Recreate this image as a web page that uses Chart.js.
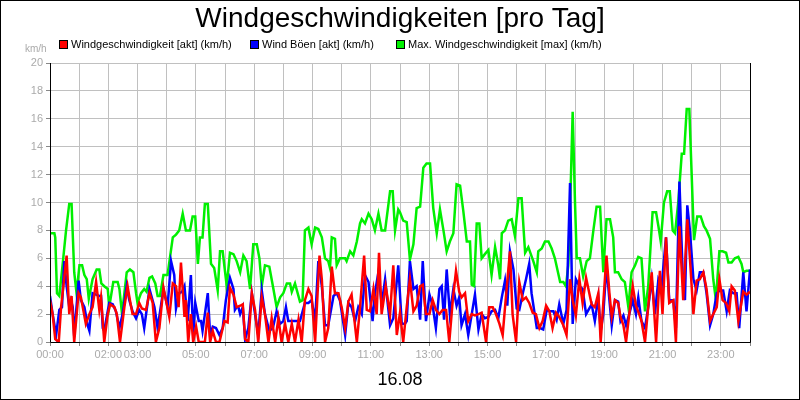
<!DOCTYPE html>
<html><head><meta charset="utf-8">
<script src="https://cdn.jsdelivr.net/npm/chart.js@4/dist/chart.umd.min.js"></script>
<style>html,body{margin:0;padding:0;background:#fff}#w{width:800px;height:400px;position:relative}canvas{display:block}</style>
</head><body><div id="w"><canvas id="c" width="800" height="400"></canvas></div>
<script>
const titleText = "Windgeschwindigkeiten [pro Tag]";
const dateLabel = "16.08";
const unitLabel = "km/h";
const seriesNames = ["Windgeschwindigkeit [akt] (km/h)", "Wind Böen [akt] (km/h)", "Max. Windgeschwindigkeit [max] (km/h)"];
const tickHours = [0,2,3,5,7,9,11,13,15,17,19,21,23];

const maxT = [0,.15,.18,.24,.32,.43,.55,.66,.74,.83,.91,1.01,1.10,1.18,1.26,1.33,1.46,1.6,1.69,1.76,1.86,1.98,2.03,2.17,2.32,2.38,2.47,2.63,2.74,2.86,2.95,3.0,3.12,3.23,3.31,3.41,3.5,3.61,3.69,3.77,3.89,4.03,4.21,4.32,4.43,4.55,4.66,4.8,4.89,4.98,5.07,5.14,5.23,5.31,5.41,5.52,5.63,5.75,5.83,5.92,6.06,6.17,6.29,6.4,6.52,6.63,6.74,6.86,6.97,7.09,7.18,7.26,7.37,7.52,7.66,7.77,7.89,8.0,8.12,8.23,8.29,8.4,8.57,8.66,8.74,8.86,8.97,9.09,9.2,9.32,9.43,9.54,9.6,9.66,9.77,9.83,9.94,10.12,10.17,10.29,10.4,10.52,10.63,10.69,10.8,10.92,11.03,11.14,11.26,11.37,11.49,11.66,11.75,11.83,11.94,12.0,12.11,12.23,12.34,12.46,12.57,12.69,12.8,12.91,13.03,13.14,13.26,13.37,13.49,13.6,13.71,13.83,13.94,14.06,14.17,14.29,14.4,14.46,14.54,14.63,14.72,14.8,14.91,15.03,15.14,15.26,15.37,15.43,15.49,15.6,15.71,15.83,15.94,16.06,16.17,16.29,16.4,16.57,16.69,16.74,16.86,16.97,17.09,17.2,17.31,17.49,17.6,17.69,17.77,17.85,17.92,18.0,18.06,18.17,18.28,18.4,18.51,18.63,18.74,18.86,18.97,19.08,19.2,19.31,19.37,19.48,19.6,19.71,19.83,19.94,20.06,20.17,20.28,20.4,20.51,20.66,20.78,20.86,20.94,21.05,21.16,21.25,21.35,21.43,21.54,21.66,21.74,21.83,21.92,22.0,22.08,22.19,22.31,22.42,22.51,22.63,22.74,22.83,22.95,23.06,23.18,23.26,23.37,23.48,23.6,23.71,23.77,23.88,24.0];
const maxV = [7.8,7.8,7.5,3.5,3.3,5.5,8,9.9,9.9,5,3.5,5.5,5.5,4.8,4.5,3.1,4.5,5.2,5.2,4.2,4,3.8,2.5,4.3,4.3,3.8,2,5,5.2,5,3.5,2.8,3.5,3.8,3.6,4.6,4.7,4.2,3.3,3.3,4.8,4.8,7.5,7.7,8,9.2,8,8,9,9,5.6,7.5,7.5,9.9,9.9,5.6,5.3,3.7,6.5,6.5,4,6.4,6.3,5.8,5,6.2,5.8,3.8,7,7,6,4,5.5,5.4,3.8,2.5,3.2,3.5,4.2,4.2,3.6,4.2,2.9,3,8,8.2,7,8.2,8.1,7.5,6,5.8,5.3,7.5,7.4,5.5,6,6,5.8,6.5,6.2,7.2,8.5,8.8,8.5,9.2,8.8,8,9.2,8,8,10.8,10.8,8,9.5,9.3,8.7,8.6,5.9,7,9.6,9.7,12.5,12.8,12.8,9.6,7.8,9.5,8,6.5,7.2,7.8,11.3,11.2,9.4,7.2,7.2,4.1,4,8.5,8.5,6,6.3,6.6,4.8,6.8,5.5,4.5,7.8,8,8.7,8.8,7.6,10.3,10.3,6.4,6.8,5.8,5,6.5,6.7,7.2,7.2,6.7,6,4.3,4.3,4,5.5,11,16.5,10,6,6,4.7,5.8,6,8,9.7,9.7,5,8.8,8.8,7.5,5,5,4.5,4.3,2.5,5,5.5,6.1,6,2.2,4,9.3,9.3,8.3,7.2,10,10.8,10.8,8,7.8,10,13.5,13.5,16.7,16.7,12,7.3,9,9,8.3,8,7.4,4.5,3,6.5,6.5,6.4,5.7,5.7,6,6.1,5.6,5,5.1,5.1];

const gustT = [0,.09,.21,.32,.41,.49,.57,.66,.72,.78,.83,.98,1.06,1.18,1.29,1.35,1.46,1.58,1.69,1.75,1.81,1.86,2.03,2.15,2.26,2.38,2.49,2.63,2.72,2.83,2.95,3.06,3.15,3.23,3.41,3.58,3.69,3.89,4.03,4.15,4.26,4.32,4.43,4.53,4.61,4.72,4.83,4.91,4.98,5.1,5.18,5.23,5.41,5.49,5.58,5.69,5.81,5.92,6.03,6.17,6.29,6.34,6.4,6.46,6.52,6.61,6.69,6.8,6.92,7.03,7.14,7.26,7.37,7.52,7.64,7.77,7.89,8.0,8.09,8.17,8.29,8.4,8.57,8.74,8.86,8.97,9.09,9.2,9.32,9.43,9.54,9.72,9.83,9.94,10.12,10.23,10.34,10.46,10.57,10.69,10.8,10.92,11.06,11.14,11.26,11.37,11.49,11.66,11.77,11.94,12.06,12.17,12.23,12.34,12.46,12.57,12.69,12.78,12.89,13.01,13.12,13.23,13.35,13.43,13.51,13.6,13.71,13.83,13.94,14.03,14.11,14.23,14.34,14.46,14.57,14.69,14.8,14.91,15.03,15.14,15.26,15.37,15.49,15.6,15.68,15.77,15.89,16.0,16.09,16.21,16.32,16.43,16.51,16.69,16.8,16.91,17.03,17.14,17.26,17.37,17.46,17.6,17.71,17.83,17.92,18.03,18.15,18.26,18.38,18.57,18.68,18.8,18.88,18.97,19.08,19.18,19.26,19.37,19.48,19.56,19.66,19.75,19.86,19.98,20.09,20.17,20.28,20.4,20.51,20.63,20.74,20.86,20.97,21.12,21.23,21.37,21.46,21.58,21.69,21.77,21.85,21.94,22.06,22.17,22.28,22.4,22.51,22.63,22.74,22.86,22.97,23.08,23.2,23.31,23.43,23.54,23.63,23.77,23.88,24.0];
const gustV = [3.3,2,0.5,2.3,2.5,5.8,4,2.5,3,2.5,0.4,4.4,3,2.5,1.2,0.8,3.5,3.4,3.3,3.3,1,0.8,2.8,2.7,2.2,1,2,4,3,2.2,1.7,2.3,2,1,3.8,2.5,1,3.8,2.5,5.8,4.8,2.4,3.5,3.6,4,1.5,4.8,0.5,2.8,1.5,1.5,0.8,3.5,0.5,1.1,1,0.5,1,3,4.6,3.8,2.3,2.5,2.5,2,2.5,0.2,1,3.5,2,0.5,3.7,2,0.8,1,2.2,1.3,1.5,2.5,1.5,1.5,1.5,1.5,2.8,2.8,3,1.5,5.8,4,1.2,1.2,3.3,3.5,3,0.5,2.8,2.5,1.5,2.5,2,4.8,4.3,1.5,3.5,5,2.7,4.5,1.2,1.7,5.5,1.3,1.3,1.5,5.8,3.8,4,1.6,5.8,1.5,3.4,2.6,1,3.8,4,1.6,5.2,2,3.8,2.6,3.2,1.2,2,0.5,2,3.4,0.9,2,1.7,1.8,2.2,2.3,1.7,3.2,4.4,2.6,6.5,5.2,2.4,2.3,3.5,4.5,5.6,3.5,1,1,0.9,2.3,2.2,2.2,1.6,2.7,1.3,2.3,11.4,1.3,4.5,4,3.8,2,2.7,1.5,3.2,0.8,2,5.5,3,1.2,3,2.9,1.5,1.9,1.2,2,3,2,3.2,1.5,1,2.5,4.5,2,4.5,4,7.5,3,3,1,11.5,5,3,9.8,8,4.5,3.7,5,5,3.5,1.2,2,3.5,3.7,3.7,2.2,3.7,3.5,3.5,1,5,2.2,5.2];

const windT = [0,.09,.18,.3,.38,.46,.57,.66,.74,.83,.98,1.06,1.23,1.35,1.46,1.58,1.69,1.75,1.86,1.98,2.06,2.21,2.29,2.4,2.55,2.66,2.74,2.83,2.95,3.06,3.15,3.29,3.41,3.52,3.63,3.75,3.89,4.09,4.21,4.32,4.41,4.49,4.61,4.66,4.74,4.83,4.91,5.01,5.1,5.23,5.31,5.41,5.49,5.58,5.69,5.81,5.98,6.09,6.17,6.29,6.4,6.52,6.61,6.69,6.8,6.92,7.03,7.14,7.26,7.37,7.49,7.6,7.72,7.83,7.94,8.06,8.17,8.29,8.4,8.52,8.63,8.74,8.86,8.97,9.09,9.24,9.32,9.43,9.54,9.66,9.77,9.89,10.0,10.12,10.23,10.34,10.52,10.63,10.77,10.86,10.97,11.09,11.2,11.28,11.37,11.51,11.66,11.77,11.89,12.0,12.11,12.23,12.34,12.46,12.57,12.69,12.78,12.89,13.01,13.12,13.23,13.35,13.46,13.58,13.69,13.81,13.92,14.03,14.11,14.23,14.34,14.46,14.57,14.69,14.8,14.95,15.06,15.18,15.29,15.41,15.52,15.63,15.77,15.86,15.98,16.09,16.21,16.32,16.43,16.55,16.66,16.78,16.89,17.01,17.12,17.23,17.35,17.46,17.6,17.71,17.83,17.92,18.03,18.15,18.26,18.38,18.57,18.68,18.8,18.88,18.97,19.08,19.18,19.26,19.37,19.48,19.56,19.66,19.75,19.86,19.98,20.09,20.2,20.28,20.4,20.51,20.63,20.78,20.91,21.0,21.12,21.23,21.37,21.46,21.58,21.71,21.85,21.94,22.06,22.17,22.28,22.4,22.51,22.63,22.74,22.86,22.95,23.06,23.18,23.29,23.37,23.48,23.6,23.77,23.88,24.0];
const windV = [3,2,0.2,0,2.5,4,6.2,2,3.3,0,3.5,3.2,1.3,2,2.5,4.3,2.3,3.2,0,2,2.7,2.5,2,0,2.5,4,3,2,2,2.8,2.4,2.3,3.5,2.8,0,1,3.9,1.8,4.2,4,2.5,5.7,1.8,3,0,2,0,1.1,0,0,0,2.1,0,0.8,0,0,1.5,1.4,3.9,3.4,2.5,2.6,2.7,0.2,0,3.5,2.3,0,3.2,2,0,1.7,0,1.7,0,1.3,0,1.3,0,1.6,0,3,3.8,3.3,0,6.2,4.5,0,1,5.4,3.5,3.5,2.5,1,2.9,3.4,0,2.5,6.2,2.3,2.2,3.8,2,6.4,2,4,2,5.5,0.5,2.1,0,2.5,4.5,2.2,2.6,4,4.1,2,2,3,2.3,2,2.3,2.3,0,3,5.1,3.6,3.2,3.5,1.5,2,1.9,2,2.1,0,2.5,2.5,2,1.3,0.5,3.2,6.5,2,0,4.3,3,3.2,2.8,2.1,2,1,1.5,2.6,2.2,1,2.1,1.8,1.2,0.5,4.5,3,1.9,4.5,2.8,4.6,2.7,2.5,3.5,0,2.8,6.2,3.5,1.8,3,2.8,1.8,1.2,0,2,4,2.6,2,1.5,0,2.5,5,0,5.1,2,7.5,2.8,3,0,8.3,3,8.8,6,2,4.4,4.5,5,3.8,1.5,2,2.5,4.5,3,2.8,2.2,4,3.7,1.5,3.6,3.4,3.6];

const pts = (t, v) => t.map((x, i) => ({x, y: v[i]}));
const grid = '#c0c0c0';

const deco = {
  id: 'deco',
  afterDraw(chart) {
    const ctx = chart.ctx;
    ctx.save();
    ctx.fillStyle = '#000';
    ctx.font = '28px "Liberation Sans", Arial, sans-serif';
    ctx.textAlign = 'center'; ctx.textBaseline = 'middle';
    ctx.fillText(titleText, 400, 19);
    ctx.font = '18px "Liberation Sans", Arial, sans-serif';
    ctx.fillText(dateLabel, 400, 380);
    ctx.font = '10px "Liberation Sans", Arial, sans-serif';
    ctx.fillStyle = '#aaa'; ctx.textAlign = 'left';
    ctx.fillText(unitLabel, 25, 49);
    const cols = ['#ff0000', '#0000ff', '#00f000'];
    const xs = [59, 250, 396];
    ctx.font = '11px "Liberation Sans", Arial, sans-serif';
    seriesNames.forEach((n, i) => {
      ctx.fillStyle = cols[i]; ctx.fillRect(xs[i], 40, 8, 8);
      ctx.strokeStyle = '#000'; ctx.lineWidth = 1; ctx.strokeRect(xs[i] + 0.5, 40.5, 8, 8);
      ctx.fillStyle = '#000'; ctx.fillText(n, xs[i] + 12, 45);
    });
    ctx.strokeStyle = '#000'; ctx.lineWidth = 1;
    ctx.strokeRect(0.5, 0.5, 799, 399);
    const a = chart.chartArea;
    ctx.beginPath();
    ctx.moveTo(a.left + 0.5, a.top); ctx.lineTo(a.left + 0.5, a.bottom + 0.5); ctx.lineTo(a.right + 0.5, a.bottom + 0.5); ctx.lineTo(a.right + 0.5, a.top);
    ctx.stroke();
    ctx.restore();
  }
};

new Chart(document.getElementById('c'), {
  type: 'line',
  data: { datasets: [
    { label: seriesNames[0], data: pts(windT, windV), borderColor: '#ff0000', borderWidth: 2.5 },
    { label: seriesNames[1], data: pts(gustT, gustV), borderColor: '#0000ff', borderWidth: 2.5 },
    { label: seriesNames[2], data: pts(maxT, maxV), borderColor: '#00f000', borderWidth: 2.5 }
  ]},
  options: {
    responsive: false, animation: false,
    elements: { point: { radius: 0 }, line: { tension: 0 } },
    layout: { padding: { top: 63, right: 50, left: 0, bottom: 0 } },
    plugins: { legend: { display: false }, title: { display: false }, tooltip: { enabled: false } },
    scales: {
      x: { type: 'linear', min: 0, max: 24,
        afterFit(s) { s.height = 58; },
        grid: { color: grid, tickLength: 4, tickColor: '#888' }, border: { display: false },
        ticks: { stepSize: 1, autoSkip: false, maxRotation: 0, color: '#aaa', font: { size: 11, family: '"Liberation Sans", Arial' }, padding: 2,
          callback: v => tickHours.includes(v) ? String(v).padStart(2, '0') + ':00' : '' } },
      y: { min: 0, max: 20,
        afterFit(s) { s.width = 50; },
        grid: { color: grid, tickLength: 4, tickColor: '#888' }, border: { display: false },
        ticks: { stepSize: 2, color: '#aaa', font: { size: 11, family: '"Liberation Sans", Arial' }, padding: 3 } }
    }
  },
  plugins: [deco]
});
</script></body></html>
